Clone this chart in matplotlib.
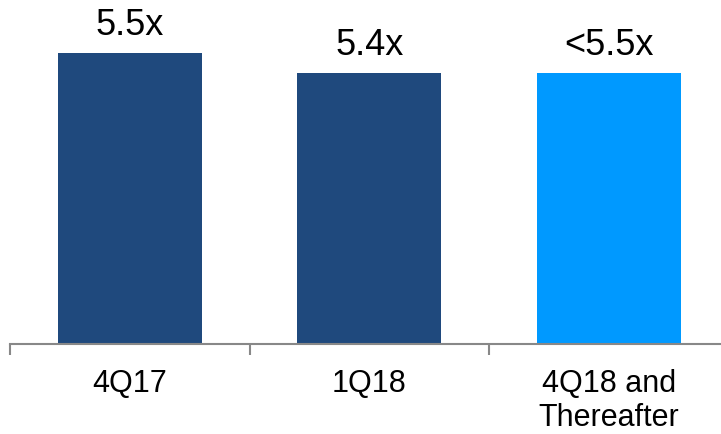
import matplotlib
matplotlib.use("Agg")
import matplotlib.pyplot as plt

# Leverage ratio by period
categories = ["4Q17", "1Q18", "4Q18 and\nThereafter"]
values = [5.5, 5.4, 5.4]
labels = ["5.5x", "5.4x", "<5.5x"]
colors = ["#1F497D", "#1F497D", "#0099FF"]

plt.rcParams['font.family'] = ['Liberation Sans', 'DejaVu Sans']

fig = plt.figure(figsize=(7.21, 4.35), dpi=100)
ax = fig.add_axes([10 / 721, 90 / 435, 718.5 / 721, 345 / 435])

x = range(len(categories))
bars = ax.bar(x, values, width=0.6, color=colors, bottom=0)

ax.set_ylim(4.045, 5.77)
ax.set_xlim(-0.5, len(categories) - 0.5)

for b, lab in zip(bars, labels):
    ax.annotate(lab, (b.get_x() + b.get_width() / 2, b.get_height()),
                xytext=(0, 8), textcoords="offset points",
                ha="center", va="bottom", fontsize=26)

# category labels, ticks sit on the boundaries
ax.set_xticks(list(x))
ax.set_xticklabels(categories, fontsize=22, linespacing=1.2)
ax.tick_params(axis="x", length=0, pad=17)
ax.set_xticks([-0.5, 0.5, 1.5, 2.5], minor=True)
ax.tick_params(axis="x", which="minor", length=8, width=1.5, color="#888888")

ax.set_yticks([])
for s in ["top", "right", "left"]:
    ax.spines[s].set_visible(False)
ax.spines["bottom"].set_color("#888888")
ax.spines["bottom"].set_linewidth(1.5)

fig.savefig("out.png", dpi=100)
